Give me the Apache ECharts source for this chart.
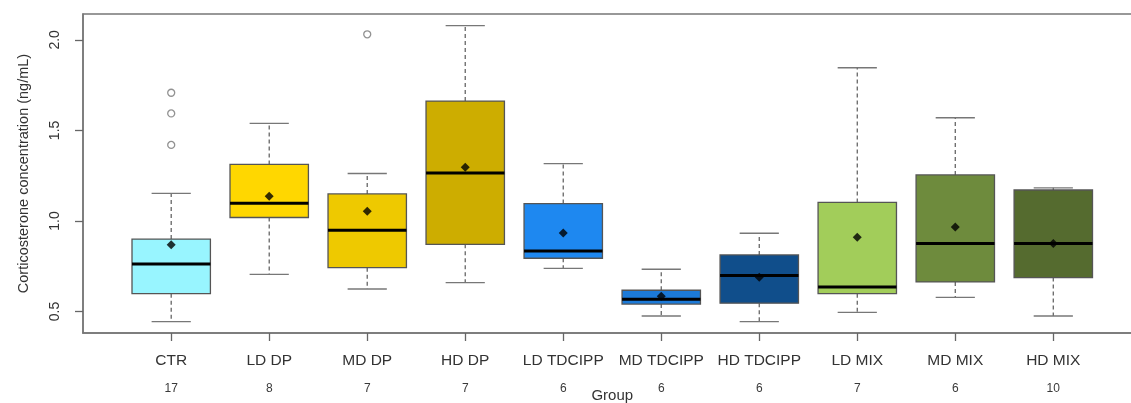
<!DOCTYPE html>
<html>
<head>
<meta charset="utf-8">
<script src="https://cdn.jsdelivr.net/npm/echarts@6/dist/echarts.min.js"></script>
<style>html,body{margin:0;padding:0;background:#fff}#c{width:1131px;height:403px}</style>
</head>
<body>
<div id="c"></div>
<script>
var categories = ['CTR','LD DP','MD DP','HD DP','LD TDCIPP','MD TDCIPP','HD TDCIPP','LD MIX','MD MIX','HD MIX'];
var counts = [17, 8, 7, 7, 6, 6, 6, 7, 6, 10];
var lowerWhisker = [0.444, 0.705, 0.624, 0.659, 0.738, 0.475, 0.444, 0.495, 0.578, 0.475];
var q1 =           [0.598, 1.019, 0.742, 0.871, 0.794, 0.541, 0.546, 0.598, 0.663, 0.687];
var medians =      [0.762, 1.098, 0.949, 1.265, 0.834, 0.567, 0.698, 0.635, 0.875, 0.875];
var q3 =           [0.900, 1.312, 1.149, 1.662, 1.096, 0.617, 0.812, 1.102, 1.254, 1.171];
var upperWhisker = [1.152, 1.539, 1.262, 2.079, 1.317, 0.733, 0.932, 1.846, 1.570, 1.183];
var means =        [0.869, 1.137, 1.054, 1.297, 0.934, 0.584, 0.689, 0.910, 0.967, 0.875];
var outlierGroup = [0, 0, 0, 2];
var outlierValue = [1.708, 1.594, 1.420, 2.031];
var boxColors = ['#98F5FF','#FFD700','#EEC900','#CDAD00','#1E88F0','#1C7AD8','#104E8B','#A2CD5A','#6E8B3D','#556B2F'];
var yTicks = [0.5, 1.0, 1.5, 2.0];

var positions = categories.map(function(c, i){ return i + 1; });
var boxData = categories.map(function(c, i){
  return [i + 1, lowerWhisker[i], q1[i], medians[i], q3[i], upperWhisker[i]];
});
var meanData = means.map(function(m, i){ return [i + 1, m]; });
var outData = outlierValue.map(function(v, i){ return [outlierGroup[i] + 1, v]; });

function renderBox(params, api) {
  var x = api.value(0);
  var unit = api.size([1, 0])[0];
  var half = unit * 0.4, capHalf = unit * 0.2;
  var pLw = api.coord([x, api.value(1)]);
  var pQ1 = api.coord([x, api.value(2)]);
  var pMed = api.coord([x, api.value(3)]);
  var pQ3 = api.coord([x, api.value(4)]);
  var pUw = api.coord([x, api.value(5)]);
  var cx = pQ1[0];
  var dashStyle = {stroke: '#666', lineWidth: 1.3, lineDash: [4, 3]};
  var solid = {stroke: '#777', lineWidth: 1.3};
  return {
    type: 'group',
    children: [
      {type: 'line', shape: {x1: cx, y1: pQ3[1], x2: cx, y2: pUw[1]}, style: dashStyle},
      {type: 'line', shape: {x1: cx, y1: pQ1[1], x2: cx, y2: pLw[1]}, style: dashStyle},
      {type: 'line', shape: {x1: cx - capHalf, y1: pUw[1], x2: cx + capHalf, y2: pUw[1]}, style: solid},
      {type: 'line', shape: {x1: cx - capHalf, y1: pLw[1], x2: cx + capHalf, y2: pLw[1]}, style: solid},
      {type: 'rect', shape: {x: cx - half, y: pQ3[1], width: half * 2, height: pQ1[1] - pQ3[1]},
        style: {fill: boxColors[params.dataIndex], stroke: '#555', lineWidth: 1.3}},
      {type: 'line', shape: {x1: cx - half, y1: pMed[1], x2: cx + half, y2: pMed[1]}, style: {stroke: '#000', lineWidth: 3}}
    ]
  };
}

var chart = echarts.init(document.getElementById('c'), null, {renderer: 'canvas'});
chart.setOption({
  animation: false,
  grid: {left: 83, right: -10.5, top: 14, bottom: 70, outerBoundsMode: 'none', containLabel: false,
    show: true, borderColor: '#777', borderWidth: 1.5, backgroundColor: 'transparent'},
  xAxis: {
    type: 'value', min: 0.1, max: 10.9,
    name: 'Group', nameLocation: 'middle', nameGap: 55, nameMoveOverlap: false,
    nameTextStyle: {fontFamily: 'Liberation Sans', fontSize: 15, color: '#333'},
    axisLine: {show: true, lineStyle: {color: '#777', width: 1.5}},
    splitLine: {show: false},
    axisTick: {show: true, length: 8, customValues: positions, lineStyle: {color: '#666', width: 1.3}},
    axisLabel: {
      customValues: positions, margin: 14,
      formatter: function(v){ var i = Math.round(v) - 1; return '{a|' + categories[i] + '}\n{b|' + counts[i] + '}'; },
      rich: {
        a: {fontFamily: 'Liberation Sans', fontSize: 15.5, color: '#333', lineHeight: 28},
        b: {fontFamily: 'Liberation Sans', fontSize: 12, color: '#3a3a3a', lineHeight: 28}
      }
    }
  },
  yAxis: {
    type: 'value', min: 0.381, max: 2.143,
    name: 'Corticosterone concentration (ng/mL)', nameLocation: 'middle', nameGap: 52, nameRotate: 90,
    nameMoveOverlap: false,
    nameTextStyle: {fontFamily: 'Liberation Sans', fontSize: 14.5, color: '#333'},
    axisLine: {show: true, lineStyle: {color: '#777', width: 1.5}},
    splitLine: {show: false},
    axisTick: {show: true, length: 8, customValues: yTicks, lineStyle: {color: '#666', width: 1.3}},
    axisLabel: {
      customValues: yTicks, rotate: 90, margin: 21,
      formatter: function(v){ return v.toFixed(1); },
      fontFamily: 'Liberation Sans', fontSize: 14, color: '#333'
    }
  },
  series: [
    {type: 'custom', renderItem: renderBox, data: boxData, encode: {x: 0, y: [1, 2, 3, 4, 5]}, clip: false},
    {type: 'scatter', data: meanData, symbol: 'diamond', symbolSize: 9, itemStyle: {color: '#000'}, z: 5},
    {type: 'scatter', data: outData, symbol: 'circle', symbolSize: 7,
      itemStyle: {color: '#fff', borderColor: '#777', borderWidth: 1.3}, z: 5}
  ]
});
</script>
</body>
</html>
